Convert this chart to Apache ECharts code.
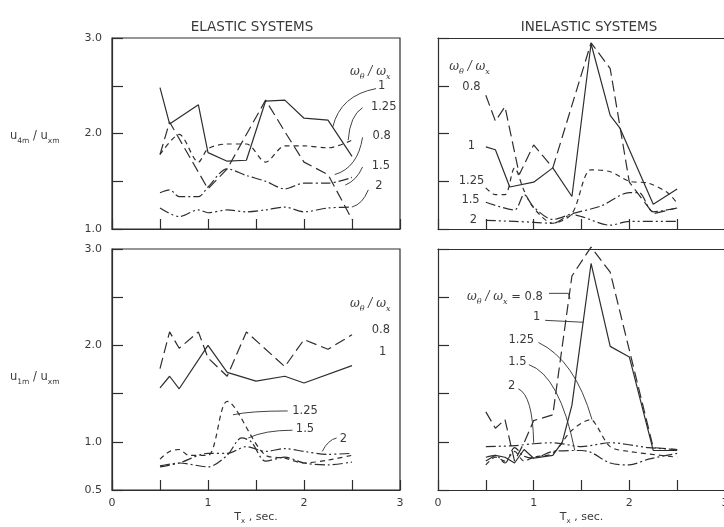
<!DOCTYPE html>
<html><head><meta charset="utf-8">
<script src="https://cdn.jsdelivr.net/npm/echarts/dist/echarts.min.js"></script>
<style>html,body{margin:0;padding:0;background:#fff}#c{width:724px;height:527px}</style>
</head><body><div id="c"></div>
<script>
// ---------- DATA (T_x in sec, response ratio) ----------
const ratios = ['0.8', '1', '1.25', '1.5', '2'];
const xTickLabels = ['0', '1', '2', '3'];

// Elastic systems, u4m/uxm
const eU4_08_T = [0.5, 0.6, 1.0, 1.2, 1.6, 1.8, 2.0, 2.25, 2.5];
const eU4_08_V = [1.78, 2.12, 1.42, 1.63, 2.35, 2.02, 1.70, 1.57, 1.10];
const eU4_1_T = [0.5, 0.6, 0.9, 1.0, 1.2, 1.4, 1.6, 1.8, 2.0, 2.25, 2.5];
const eU4_1_V = [2.48, 2.10, 2.30, 1.80, 1.71, 1.72, 2.34, 2.35, 2.16, 2.14, 1.76];
const eU4_125_T = [0.5, 0.7, 0.9, 1.0, 1.2, 1.4, 1.6, 1.8, 2.0, 2.25, 2.5];
const eU4_125_V = [1.78, 1.99, 1.70, 1.84, 1.89, 1.89, 1.70, 1.87, 1.87, 1.85, 1.93];
const eU4_15_T = [0.5, 0.6, 0.7, 0.9, 1.0, 1.2, 1.4, 1.6, 1.8, 2.0, 2.25, 2.5];
const eU4_15_V = [1.38, 1.41, 1.34, 1.34, 1.44, 1.63, 1.56, 1.50, 1.42, 1.48, 1.48, 1.54];
const eU4_2_T = [0.5, 0.7, 0.9, 1.0, 1.2, 1.4, 1.6, 1.8, 2.0, 2.25, 2.5];
const eU4_2_V = [1.22, 1.13, 1.20, 1.17, 1.20, 1.18, 1.20, 1.23, 1.18, 1.22, 1.23];

// Inelastic systems, u4m/uxm
const iU4_08_T = [0.5, 0.6, 0.7, 0.85, 1.0, 1.2, 1.6, 1.8, 2.0, 2.25, 2.5];
const iU4_08_V = [2.40, 2.13, 2.28, 1.57, 1.88, 1.64, 2.95, 2.68, 1.49, 1.16, 1.22];
const iU4_1_T = [0.5, 0.6, 0.75, 1.0, 1.2, 1.4, 1.6, 1.8, 1.9, 2.25, 2.5];
const iU4_1_V = [1.86, 1.83, 1.44, 1.49, 1.64, 1.34, 2.94, 2.19, 2.06, 1.26, 1.42];
const iU4_125_T = [0.5, 0.6, 0.7, 0.8, 0.9, 1.0, 1.2, 1.4, 1.6, 1.8, 2.0, 2.2, 2.4, 2.5];
const iU4_125_V = [1.43, 1.36, 1.36, 1.64, 1.40, 1.22, 1.06, 1.16, 1.62, 1.60, 1.50, 1.48, 1.38, 1.27];
const iU4_15_T = [0.5, 0.8, 0.9, 1.0, 1.2, 1.4, 1.7, 2.0, 2.1, 2.25, 2.5];
const iU4_15_V = [1.28, 1.20, 1.36, 1.23, 1.10, 1.16, 1.24, 1.38, 1.38, 1.18, 1.22];
const iU4_2_T = [0.5, 0.8, 1.0, 1.2, 1.4, 1.5, 1.8, 2.0, 2.5];
const iU4_2_V = [1.09, 1.08, 1.07, 1.06, 1.15, 1.13, 1.04, 1.08, 1.08];

// Elastic systems, u1m/uxm
const eU1_08_T = [0.5, 0.6, 0.7, 0.9, 1.0, 1.2, 1.4, 1.8, 2.0, 2.25, 2.5];
const eU1_08_V = [1.76, 2.14, 1.97, 2.14, 1.87, 1.68, 2.14, 1.78, 2.06, 1.96, 2.11];
const eU1_1_T = [0.5, 0.6, 0.7, 1.0, 1.2, 1.5, 1.8, 2.0, 2.5];
const eU1_1_V = [1.56, 1.68, 1.55, 2.0, 1.72, 1.63, 1.68, 1.61, 1.79];
const eU1_125_T = [0.5, 0.6, 0.7, 0.8, 1.0, 1.2, 1.6, 1.8, 2.0, 2.25, 2.5];
const eU1_125_V = [0.82, 0.90, 0.92, 0.86, 0.86, 1.42, 0.86, 0.83, 0.78, 0.81, 0.86];
const eU1_15_T = [0.5, 0.7, 1.0, 1.2, 1.35, 1.45, 1.6, 1.8, 2.0, 2.25, 2.5];
const eU1_15_V = [0.75, 0.78, 0.74, 0.86, 1.04, 1.0, 0.80, 0.84, 0.78, 0.76, 0.79];
const eU1_2_T = [0.5, 0.7, 1.0, 1.2, 1.4, 1.6, 1.8, 2.0, 2.25, 2.5];
const eU1_2_V = [0.74, 0.78, 0.88, 0.88, 0.95, 0.90, 0.93, 0.90, 0.87, 0.88];

// Inelastic systems, u1m/uxm
const iU1_08_T = [0.5, 0.6, 0.7, 0.8, 0.9, 1.0, 1.2, 1.4, 1.6, 1.8, 2.25, 2.5];
const iU1_08_V = [1.31, 1.14, 1.23, 0.80, 0.99, 1.22, 1.28, 2.72, 3.02, 2.76, 0.94, 0.92];
const iU1_1_T = [0.5, 0.6, 0.7, 0.8, 0.9, 1.0, 1.2, 1.3, 1.4, 1.6, 1.8, 2.0, 2.25, 2.5];
const iU1_1_V = [0.80, 0.86, 0.84, 0.78, 0.92, 0.83, 0.86, 1.0, 1.38, 2.85, 1.99, 1.88, 0.91, 0.91];
const iU1_125_T = [0.5, 0.6, 0.7, 0.8, 0.9, 1.0, 1.2, 1.4, 1.6, 1.65, 1.8, 2.0, 2.5];
const iU1_125_V = [0.76, 0.84, 0.80, 0.90, 0.80, 0.84, 0.88, 1.12, 1.23, 1.18, 0.95, 0.90, 0.84];
const iU1_15_T = [0.5, 0.6, 0.7, 0.8, 0.9, 1.0, 1.2, 1.5, 1.6, 1.8, 2.0, 2.2, 2.5];
const iU1_15_V = [0.84, 0.86, 0.78, 0.94, 0.85, 0.83, 0.90, 0.91, 0.89, 0.78, 0.76, 0.82, 0.88];
const iU1_2_T = [0.5, 0.8, 1.0, 1.2, 1.5, 1.8, 2.2, 2.5];
const iU1_2_V = [0.95, 0.96, 0.98, 0.99, 0.95, 0.99, 0.94, 0.92];

// ---------- CHART ----------
const INK = '#2e2e2e';
const TXT = '#3a3a3a';
const FONT = 'DejaVu Sans';
const dashes = { '0.8': [11, 5], '1': 'solid', '1.25': [5, 4], '1.5': [10, 3, 2, 3], '2': [10, 3, 2, 3, 2, 3] };
const smoothOf = { '0.8': false, '1': false, '1.25': 0.3, '1.5': 0.3, '2': 0.3 };

const panels = [
  { sets: [[eU4_08_T, eU4_08_V], [eU4_1_T, eU4_1_V], [eU4_125_T, eU4_125_V], [eU4_15_T, eU4_15_V], [eU4_2_T, eU4_2_V]] },
  { sets: [[iU4_08_T, iU4_08_V], [iU4_1_T, iU4_1_V], [iU4_125_T, iU4_125_V], [iU4_15_T, iU4_15_V], [iU4_2_T, iU4_2_V]] },
  { sets: [[eU1_08_T, eU1_08_V], [eU1_1_T, eU1_1_V], [eU1_125_T, eU1_125_V], [eU1_15_T, eU1_15_V], [eU1_2_T, eU1_2_V]] },
  { sets: [[iU1_08_T, iU1_08_V], [iU1_1_T, iU1_1_V], [iU1_125_T, iU1_125_V], [iU1_15_T, iU1_15_V], [iU1_2_T, iU1_2_V]] }
];

const gridLayout = [
  { left: 112, top: 38, width: 288, height: 191 },
  { left: 438, top: 38, width: 287, height: 191 },
  { left: 112, top: 249, width: 288, height: 241 },
  { left: 438, top: 249, width: 287, height: 241 }
];

const zip = (a, b) => a.map((t, i) => [t, b[i]]);

const chart = echarts.init(document.getElementById('c'), null, { renderer: 'canvas' });

const axisLineStyle = { color: INK, width: 1.2 };
const xAxes = gridLayout.map((g, i) => ({
  type: 'value', gridIndex: i, min: 0, max: 3, interval: 0.5, position: 'bottom',
  axisLine: { show: true, onZero: false, lineStyle: axisLineStyle },
  axisTick: { show: true, inside: true, length: 10, lineStyle: axisLineStyle },
  splitLine: { show: false },
  axisLabel: {
    show: i >= 2, interval: 0, margin: 8, color: TXT, fontSize: 11, fontFamily: FONT,
    showMinLabel: true, showMaxLabel: true,
    formatter: v => (Math.abs(v - Math.round(v)) < 1e-9 ? xTickLabels[Math.round(v)] : '')
  },
  name: i >= 2 ? '{n|T}{s|x}{n| , sec.}' : '',
  nameLocation: 'middle', nameGap: 22,
  nameTextStyle: { rich: {
    n: { fontSize: 11, color: TXT, fontFamily: FONT, lineHeight: 13, verticalAlign: 'top' },
    s: { fontSize: 7, color: TXT, fontFamily: FONT, lineHeight: 7, padding: [6, 0, 0, 0], verticalAlign: 'top' }
  } }
}));
// top frame lines for the right-hand panels (their right edge runs off the page)
[1, 3].forEach(i => xAxes.push({
  type: 'value', gridIndex: i, min: 0, max: 3, position: 'top',
  axisLine: { show: true, onZero: false, lineStyle: axisLineStyle },
  axisTick: { show: false }, axisLabel: { show: false }, splitLine: { show: false }
}));

const option = {
  backgroundColor: '#ffffff',
  animation: false,
  title: [
    { text: 'ELASTIC SYSTEMS', left: 247, top: 15, textAlign: 'center',
      textStyle: { fontSize: 13.5, fontWeight: 'normal', color: TXT, fontFamily: FONT } },
    { text: 'INELASTIC SYSTEMS', left: 584, top: 15, textAlign: 'center',
      textStyle: { fontSize: 13.5, fontWeight: 'normal', color: TXT, fontFamily: FONT } }
  ],
  grid: gridLayout.map((g, i) => Object.assign({
    show: i % 2 === 0, borderColor: INK, borderWidth: 1.2, backgroundColor: 'transparent',
    containLabel: false, outerBoundsMode: 'none'
  }, g)),
  xAxis: xAxes,
  yAxis: gridLayout.map((g, i) => ({
    type: 'value', gridIndex: i, min: i < 2 ? 1 : 0.5, max: 3, interval: 0.5,
    axisLine: { show: true, onZero: false, lineStyle: axisLineStyle },
    axisTick: { show: true, inside: true, length: 11, lineStyle: axisLineStyle },
    splitLine: { show: false },
    axisLabel: {
      show: i % 2 === 0, margin: 10, color: TXT, fontSize: 11, fontFamily: FONT,
      showMinLabel: true, showMaxLabel: true,
      formatter: v => ((Math.abs(v - Math.round(v)) < 1e-9 || Math.abs(v - 0.5) < 1e-9) ? v.toFixed(1) : '')
    }
  })),
  series: []
};

panels.forEach((p, gi) => {
  p.sets.forEach((s, ri) => {
    const r = ratios[ri];
    option.series.push({
      type: 'line', name: r + '_' + gi, xAxisIndex: gi, yAxisIndex: gi,
      data: zip(s[0], s[1]), showSymbol: false, symbol: 'none', clip: false,
      smooth: smoothOf[r],
      lineStyle: { color: INK, width: 1.2, type: dashes[r] },
      z: 3
    });
  });
});

chart.setOption(option);

// ---------- annotations (positioned in data space of each panel) ----------
const P = (g, t, v) => chart.convertToPixel({ xAxisIndex: g, yAxisIndex: g }, [t, v]);
const graphics = [];
const richW = {
  w: { fontSize: 12, fontStyle: 'italic', fontFamily: 'DejaVu Serif', fill: TXT, lineHeight: 14, verticalAlign: 'top' },
  s: { fontSize: 8, fontStyle: 'italic', fontFamily: 'DejaVu Serif', fill: TXT, lineHeight: 8, padding: [7, 0, 0, 0], verticalAlign: 'top' },
  n: { fontSize: 11.5, fontFamily: FONT, fill: TXT, lineHeight: 14, verticalAlign: 'top' }
};
function label(g, t, v, text, align) {
  const [x, y] = P(g, t, v);
  graphics.push({ type: 'text', x, y, z: 10,
    style: { text, rich: richW, fill: TXT, fontSize: 11.5, fontFamily: FONT, align: align || 'center', verticalAlign: 'middle' } });
}
function curve(g, a, c, b) {
  const p1 = P(g, a[0], a[1]), pc = P(g, c[0], c[1]), p2 = P(g, b[0], b[1]);
  graphics.push({ type: 'bezierCurve', z: 10,
    shape: { x1: p1[0], y1: p1[1], cpx1: pc[0], cpy1: pc[1], x2: p2[0], y2: p2[1] },
    style: { stroke: INK, lineWidth: 0.9, fill: null } });
}
function poly(g, pts) {
  graphics.push({ type: 'polyline', z: 10, shape: { points: pts.map(q => P(g, q[0], q[1])) },
    style: { stroke: INK, lineWidth: 0.9, fill: null } });
}
const WT = '{w|ω}{s|θ}{w| / ω}{s|x}';

// top-left
label(0, 2.69, 2.63, WT);
label(0, 2.81, 2.49, '{n|1}');
label(0, 2.83, 2.27, '{n|1.25}');
label(0, 2.81, 1.96, '{n|0.8}');
label(0, 2.80, 1.65, '{n|1.5}');
label(0, 2.78, 1.44, '{n|2}');
curve(0, [2.75, 2.47], [2.38, 2.40], [2.30, 2.07]);
curve(0, [2.61, 2.27], [2.48, 2.19], [2.46, 1.93]);
curve(0, [2.61, 1.96], [2.56, 1.64], [2.32, 1.57]);
curve(0, [2.61, 1.65], [2.55, 1.51], [2.43, 1.46]);
curve(0, [2.67, 1.41], [2.61, 1.26], [2.50, 1.23]);

// top-right
label(1, 0.33, 2.69, WT);
label(1, 0.35, 2.48, '{n|0.8}');
label(1, 0.35, 1.86, '{n|1}');
label(1, 0.35, 1.49, '{n|1.25}');
label(1, 0.34, 1.29, '{n|1.5}');
label(1, 0.37, 1.08, '{n|2}');

// bottom-left
label(2, 2.69, 2.42, WT);
label(2, 2.80, 2.15, '{n|0.8}');
label(2, 2.82, 1.92, '{n|1}');
label(2, 2.01, 1.31, '{n|1.25}');
label(2, 2.01, 1.12, '{n|1.5}');
label(2, 2.41, 1.02, '{n|2}');
curve(2, [1.83, 1.32], [1.44, 1.32], [1.26, 1.28]);
curve(2, [1.88, 1.12], [1.59, 1.12], [1.42, 1.04]);
curve(2, [2.34, 1.04], [2.25, 1.02], [2.19, 0.90]);

// bottom-right
label(3, 0.70, 2.49, WT + '{n| = 0.8}');
label(3, 1.03, 2.28, '{n|1}');
label(3, 0.87, 2.05, '{n|1.25}');
label(3, 0.83, 1.82, '{n|1.5}');
label(3, 0.77, 1.57, '{n|2}');
poly(3, [[1.16, 2.54], [1.365, 2.54], [1.38, 2.48]]);
poly(3, [[1.12, 2.26], [1.52, 2.24]]);
curve(3, [1.05, 2.03], [1.43, 1.85], [1.61, 1.23]);
curve(3, [0.95, 1.80], [1.27, 1.69], [1.43, 0.91]);
curve(3, [0.84, 1.55], [0.99, 1.48], [1.00, 0.99]);

// y-axis names
const yNameRich = {
  n: { fontSize: 11.5, fontFamily: FONT, fill: TXT, lineHeight: 14, verticalAlign: 'top' },
  s: { fontSize: 7.5, fontFamily: FONT, fill: TXT, lineHeight: 7, padding: [7, 0, 0, 0], verticalAlign: 'top' }
};
graphics.push({ type: 'text', x: 10, y: 137, z: 10, style: {
  text: '{n|u}{s|4m}{n| / u}{s|xm}', rich: yNameRich, align: 'left', verticalAlign: 'middle' } });
graphics.push({ type: 'text', x: 10, y: 378, z: 10, style: {
  text: '{n|u}{s|1m}{n| / u}{s|xm}', rich: yNameRich, align: 'left', verticalAlign: 'middle' } });

chart.setOption({ graphic: graphics });
</script></body></html>
